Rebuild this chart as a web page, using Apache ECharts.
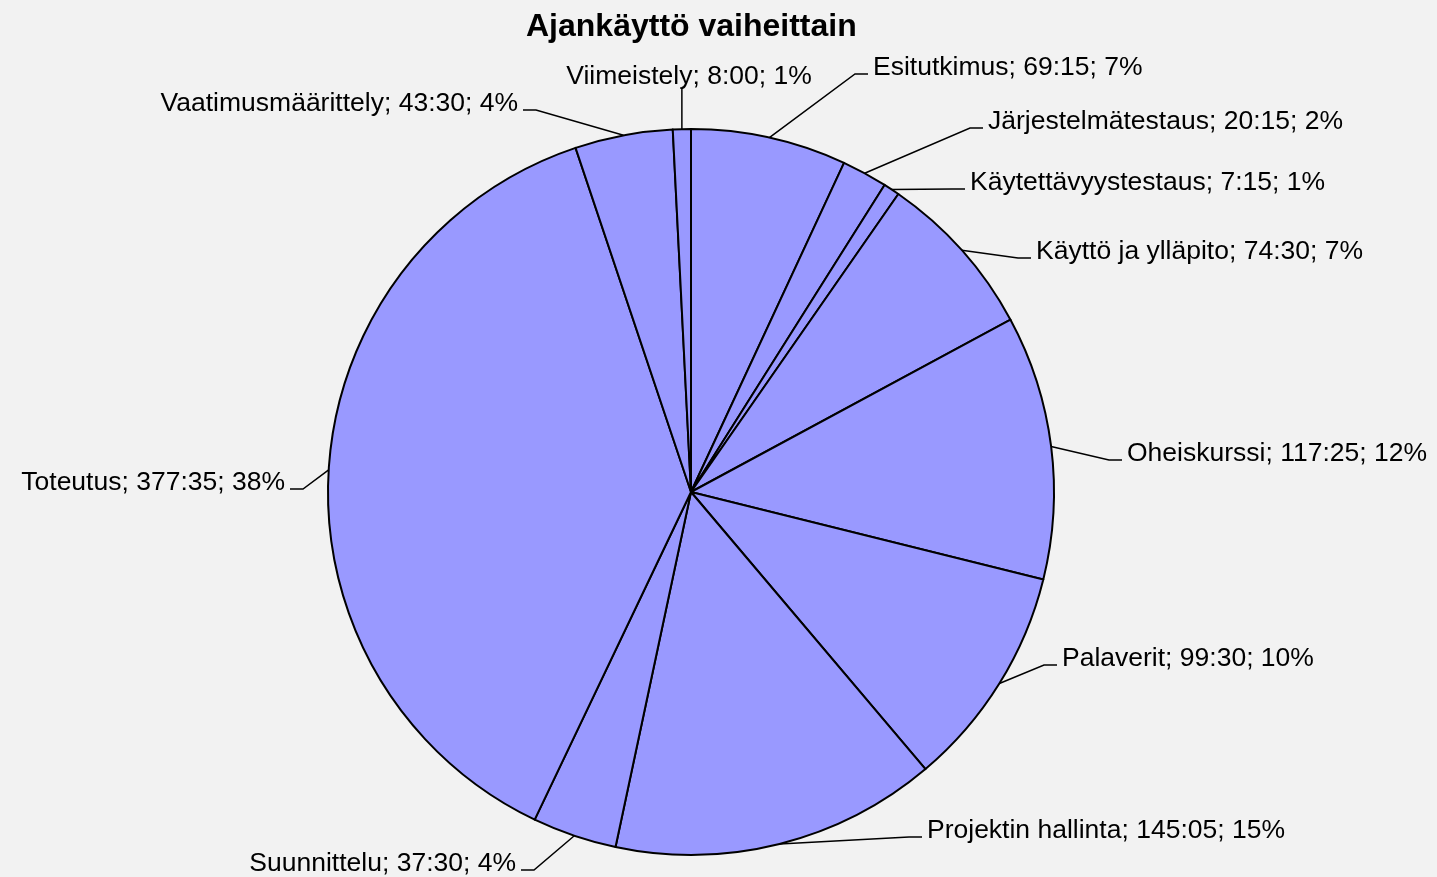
<!DOCTYPE html>
<html>
<head>
<meta charset="utf-8">
<script src="https://cdn.jsdelivr.net/npm/echarts@6/dist/echarts.min.js"></script>
<style>
html,body{margin:0;padding:0;background:#f2f2f2;}
#chart{width:1437px;height:877px;}
</style>
</head>
<body>
<div id="chart"></div>
<script>
const titleText = 'Ajankäyttö vaiheittain';
const categories = ['Esitutkimus','Järjestelmätestaus','Käytettävyystestaus','Käyttö ja ylläpito','Oheiskurssi','Palaverit','Projektin hallinta','Suunnittelu','Toteutus','Vaatimusmäärittely','Viimeistely'];
const timeLabels = ['69:15','20:15','7:15','74:30','117:25','99:30','145:05','37:30','377:35','43:30','8:00'];

// label layout (text anchor in px: x edge, vertical centre, alignment) — layout only
const labelAnchors = [
  [873, 68, 'left'], [988, 122, 'left'], [970, 183, 'left'], [1036, 252, 'left'],
  [1127, 454, 'left'], [1062, 659, 'left'], [927, 831, 'left'], [516, 864, 'right'],
  [285, 483, 'right'], [518, 104, 'right'], [689, 77, 'center']
];

function toHours(s){ const p = s.split(':'); return Number(p[0]) + Number(p[1])/60; }
const values = timeLabels.map(toHours);

const FONT = 'Liberation Sans, Arial, sans-serif';
const chart = echarts.init(document.getElementById('chart'));
chart.setOption({
  backgroundColor: '#f2f2f2',
  animation: false,
  title: {
    text: titleText,
    left: 521,
    top: 6,
    textStyle: {fontFamily: FONT, fontSize: 32, fontWeight: 'bold', color: '#000'}
  },
  series: [{
    type: 'pie',
    center: [691, 492],
    radius: 363,
    startAngle: 90,
    clockwise: true,
    percentPrecision: 2,
    avoidLabelOverlap: false,
    itemStyle: {color: '#9999ff', borderColor: '#000', borderWidth: 2},
    label: {
      show: true,
      position: 'outside',
      fontFamily: FONT,
      fontSize: 26.5,
      color: '#000',
      formatter: p => p.name + '; ' + timeLabels[p.dataIndex] + '; ' + Math.round(p.percent) + '%'
    },
    labelLine: {show: true, length: 20, length2: 13, lineStyle: {color: '#000', width: 1.5}},
    labelLayout: function (params) {
      const a = labelAnchors[params.dataIndex];
      const p0 = params.labelLinePoints ? params.labelLinePoints[0] : [a[0], a[1]];
      let pts;
      if (a[2] === 'center') {
        pts = [p0, [p0[0], a[1] + 11], [p0[0], a[1] + 11]];
      } else {
        const s = a[2] === 'left' ? -1 : 1;
        const ly = a[1] + 6;
        const x2 = a[0] + s * 5;
        const x1 = x2 + s * 13;
        pts = [p0, [x1, ly], [x2, ly]];
      }
      return {x: a[0], y: a[1], align: a[2], verticalAlign: 'middle', labelLinePoints: pts};
    },
    emphasis: {disabled: true},
    data: categories.map((c, i) => ({name: c, value: values[i]}))
  }]
});
</script>
</body>
</html>
